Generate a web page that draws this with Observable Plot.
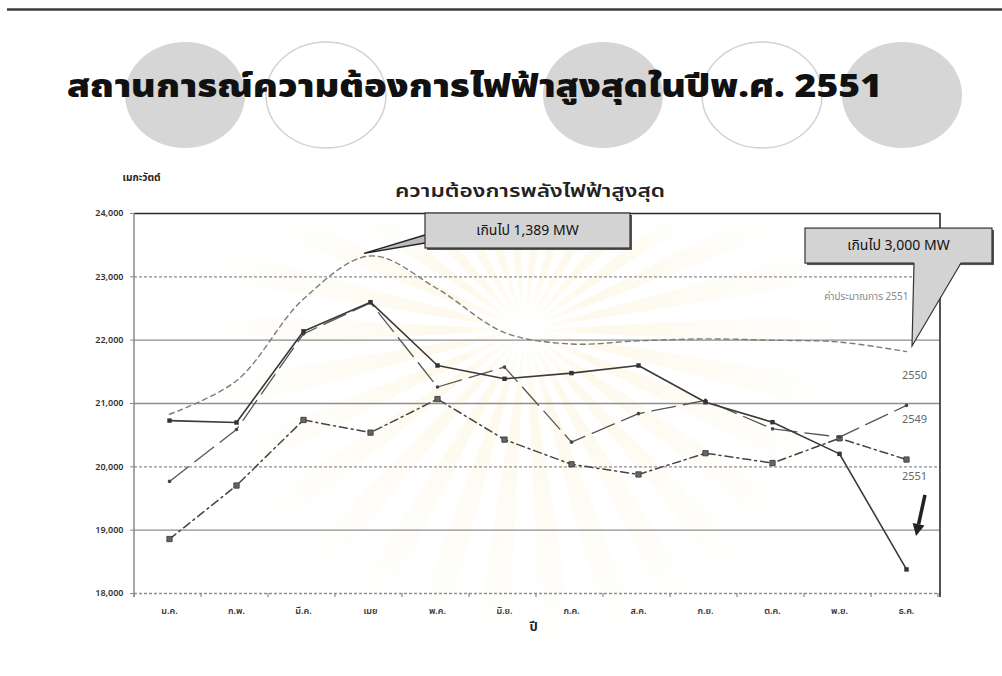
<!DOCTYPE html>
<html>
<head>
<meta charset="utf-8">
<script src="https://cdn.jsdelivr.net/npm/d3@7"></script>
<script src="https://cdn.jsdelivr.net/npm/@observablehq/plot@0.6"></script>
<style>
  body { margin: 0; background: #fff; }
  #slide { position: relative; width: 1002px; height: 676px; overflow: hidden; background: #fff; }
  #glow { position: absolute; left: 0; top: 0; }
  #head { position: absolute; left: 0; top: 0; }
  #chart { position: absolute; left: 0; top: 160px; }
</style>
</head>
<body>
<div id="slide">
  <svg id="glow" width="1002" height="676"></svg>
  <svg id="head" width="1002" height="160"></svg>
  <div id="chart"></div>
</div>
<script>
// Peak electricity demand by month (MW)
const months = ["ม.ค.", "ก.พ.", "มี.ค.", "เมย", "พ.ค.", "มิ.ย.", "ก.ค.", "ส.ค.", "ก.ย.", "ต.ค.", "พ.ย.", "ธ.ค."];
const forecast2551 = [20830, 21360, 22650, 23330, 22810, 22120, 21940, 21990, 22020, 22000, 21970, 21820];
const demand2550 = [19770, 20590, 22100, 22590, 21260, 21575, 20390, 20840, 21050, 20600, 20470, 20970];
const demand2549 = [18860, 19705, 20740, 20540, 21070, 20430, 20040, 19880, 20215, 20060, 20450, 20115];
const demand2551 = [20730, 20700, 22140, 22600, 21600, 21390, 21480, 21600, 21020, 20705, 20205, 18380];
const yTicks = [18000, 19000, 20000, 21000, 22000, 23000, 24000];
const solidGrid = [19000, 21000, 22000];
const dashedGrid = [18000, 20000, 23000];

const slideTitle = "สถานการณ์ความต้องการไฟฟ้าสูงสุดในปีพ.ศ. 2551";
const chartTitle = "ความต้องการพลังไฟฟ้าสูงสุด";
const unitLabel = "เมกะวัตต์";
const axisLabel = "ปี";
const callout1 = "เกินไป 1,389 MW";
const callout2 = "เกินไป 3,000 MW";

const FONT = '"Noto Sans Thai", "Noto Sans", "DejaVu Sans", sans-serif';
const rows = vals => months.map((m, i) => ({month: m, value: vals[i]}));

// ---- faint sunburst watermark behind the chart ----
const glow = d3.select("#glow");
const defs = glow.append("defs");
const rg = defs.append("radialGradient").attr("id", "fade").attr("gradientUnits", "userSpaceOnUse")
  .attr("cx", 525).attr("cy", 330).attr("r", 320);
rg.append("stop").attr("offset", "0").attr("stop-color", "#f6e3a6").attr("stop-opacity", 0);
rg.append("stop").attr("offset", "0.22").attr("stop-color", "#f6e3a6").attr("stop-opacity", 0.22);
rg.append("stop").attr("offset", "1").attr("stop-color", "#f6e3a6").attr("stop-opacity", 0);
const lg = defs.append("linearGradient").attr("id", "vfade").attr("gradientUnits", "userSpaceOnUse")
  .attr("x1", 0).attr("y1", 215).attr("x2", 0).attr("y2", 255);
lg.append("stop").attr("offset", "0").attr("stop-color", "#fff").attr("stop-opacity", 0);
lg.append("stop").attr("offset", "1").attr("stop-color", "#fff").attr("stop-opacity", 1);
defs.append("mask").attr("id", "wm").attr("maskUnits", "userSpaceOnUse")
  .attr("x", 0).attr("y", 0).attr("width", 1002).attr("height", 676)
  .append("rect").attr("x", 0).attr("y", 0).attr("width", 1002).attr("height", 676).attr("fill", "url(#vfade)");
const rays = d3.range(30);
glow.append("g").attr("mask", "url(#wm)").selectAll("path").data(rays).join("path")
  .attr("d", i => {
    const c = i * 12, a0 = (c - 3) * Math.PI / 180, a1 = (c + 3) * Math.PI / 180, R = 330;
    return `M525,330L${525 + R * Math.cos(a0)},${330 + R * Math.sin(a0)}L${525 + R * Math.cos(a1)},${330 + R * Math.sin(a1)}Z`;
  })
  .attr("fill", "url(#fade)");

// ---- slide header: rule, decorative ovals, heading ----
const head = d3.select("#head");
head.append("line").attr("x1", 7).attr("x2", 1002).attr("y1", 9.5).attr("y2", 9.5)
  .attr("stroke", "#3c3c3c").attr("stroke-width", 2.5);
const ovals = [
  {cx: 185, filled: true}, {cx: 326, filled: false}, {cx: 603, filled: true},
  {cx: 762, filled: false}, {cx: 902, filled: true}
];
head.selectAll("ellipse").data(ovals).join("ellipse")
  .attr("cx", d => d.cx).attr("cy", 95).attr("rx", 60).attr("ry", 53)
  .attr("fill", d => d.filled ? "#d6d6d6" : "none")
  .attr("stroke", d => d.filled ? "none" : "#d2d2d2").attr("stroke-width", 1.5);
head.append("text").attr("x", 67).attr("y", 97)
  .attr("font-family", FONT).attr("font-size", 31).attr("font-weight", 900)
  .attr("fill", "#111").attr("textLength", 815).attr("lengthAdjust", "spacingAndGlyphs")
  .text(slideTitle);

// ---- chart ----
const chart = Plot.plot({
  width: 1002,
  height: 500,
  marginTop: 53,
  marginBottom: 67,
  marginLeft: 134,
  marginRight: 62,
  style: {background: "transparent", fontFamily: FONT, color: "#333", overflow: "visible"},
  x: {type: "point", domain: months, padding: 0.5},
  y: {domain: [18000, 24000]},
  marks: [
    Plot.ruleY(solidGrid, {stroke: "#8e8e8e", strokeWidth: 1.4}),
    Plot.ruleY(dashedGrid, {stroke: "#8e8e8e", strokeWidth: 1.4, strokeDasharray: "3,2"}),
    Plot.ruleY([24000], {stroke: "#2a2a2a", strokeWidth: 1.6}),
    Plot.axisY({ticks: yTicks, tickSize: 4, tickPadding: 7, fontSize: 9, fontWeight: 600, stroke: "#888", tickFormat: d3.format(",")}),
    Plot.axisX({tickSize: 0, tickPadding: 14, fontSize: 9, fontWeight: 600, label: null}),
    // forecast
    Plot.line(rows(forecast2551), {x: "month", y: "value", stroke: "#7c7c7c", strokeWidth: 1.4, strokeDasharray: "5,4", curve: "catmull-rom"}),
    // 2549
    Plot.line(rows(demand2549), {x: "month", y: "value", stroke: "#444", strokeWidth: 1.5, strokeDasharray: "8,4,2,4"}),
    Plot.dot(rows(demand2549), {x: "month", y: "value", symbol: "square", r: 3, fill: "#666", stroke: "#333", strokeWidth: 0.8}),
    // 2550
    Plot.line(rows(demand2550), {x: "month", y: "value", stroke: "#555", strokeWidth: 1.3, strokeDasharray: "24,8"}),
    Plot.dot(rows(demand2550), {x: "month", y: "value", r: 1.8, fill: "#444"}),
    // 2551 actual
    Plot.line(rows(demand2551), {x: "month", y: "value", stroke: "#3a3a3a", strokeWidth: 1.6}),
    Plot.dot(rows(demand2551), {x: "month", y: "value", symbol: "square", r: 2.5, fill: "#333"}),
    // labels around the frame
    Plot.text([unitLabel], {frameAnchor: "top-left", textAnchor: "middle", dx: 7, dy: -40, fontSize: 10, fontWeight: 700, fill: "#222"}),
    Plot.text([axisLabel], {frameAnchor: "bottom", dx: -4, dy: 37, fontSize: 13, fontWeight: 700, fill: "#222"}),
    // series labels at the right end
    Plot.text([{t: "ค่าประมาณการ 2551", v: 22680}], {x: () => "ธ.ค.", y: "v", text: "t", textAnchor: "end", dx: 2, fontSize: 10, fill: "#888"}),
    Plot.text([{t: "2550", v: 21440}, {t: "2549", v: 20750}, {t: "2551", v: 19850}], {x: () => "ธ.ค.", y: "v", text: "t", dx: 8, fontSize: 11, fill: "#666"})
  ]
});
document.getElementById("chart").append(chart);

// ---- frame pieces, band ticks, title and callouts, placed with the chart's scales ----
const sx = chart.scale("x"), sy = chart.scale("y");
const svg = d3.select(chart);
const [x0, x1] = sx.range;
const yTop = sy.apply(24000), yBot = sy.apply(18000);
const step = sx.apply(months[1]) - sx.apply(months[0]);
const g = svg.append("g");

g.append("text").attr("x", (x0 + x1) / 2 - 7).attr("y", yTop - 22).attr("dy", "0.35em")
  .attr("text-anchor", "middle").attr("font-family", FONT).attr("font-size", 18).attr("font-weight", 600)
  .attr("fill", "#222").attr("textLength", 270).attr("lengthAdjust", "spacingAndGlyphs")
  .text(chartTitle);

g.append("line").attr("x1", x0).attr("x2", x0).attr("y1", yTop).attr("y2", yBot + 4)
  .attr("stroke", "#8a8a8a").attr("stroke-width", 1.5);
g.append("line").attr("x1", x1).attr("x2", x1).attr("y1", yTop).attr("y2", yBot + 4)
  .attr("stroke", "#2a2a2a").attr("stroke-width", 1.6);
g.selectAll(".bt").data(d3.range(months.length + 1)).join("line")
  .attr("x1", i => x0 + i * step).attr("x2", i => x0 + i * step)
  .attr("y1", yBot).attr("y2", yBot + 4).attr("stroke", "#8a8a8a").attr("stroke-width", 1.2);

function box(x, y, w, h, label) {
  g.append("rect").attr("x", x + 2).attr("y", y + 2).attr("width", w).attr("height", h).attr("fill", "#555");
  g.append("rect").attr("x", x).attr("y", y).attr("width", w).attr("height", h)
    .attr("fill", "#d3d3d3").attr("stroke", "#333").attr("stroke-width", 1.2);
  g.append("text").attr("x", x + w / 2).attr("y", y + h / 2).attr("dy", "0.35em")
    .attr("text-anchor", "middle").attr("font-family", FONT).attr("font-size", 14).attr("fill", "#111")
    .text(label);
}

// callout at the forecast peak
const tip1 = [sx.apply("เมย") - 6, sy.apply(forecast2551[3]) - 2];
const b1 = {x: tip1[0] + 61, y: yTop, w: 205, h: 35};
g.append("path").attr("d", `M${b1.x},${b1.y + 22}L${tip1[0]},${tip1[1]}L${b1.x},${b1.y + 30}`)
  .attr("fill", "#bbb").attr("stroke", "#222").attr("stroke-width", 1.4);
box(b1.x, b1.y, b1.w, b1.h, callout1);

// callout at the December forecast
const tip2 = [sx.apply("ธ.ค.") + 6, sy.apply(forecast2551[11]) - 5];
const b2 = {x: tip2[0] - 107, y: tip2[1] - 118, w: 187, h: 35};
box(b2.x, b2.y, b2.w, b2.h, callout2);
const wl = tip2[0] + 2, wr = tip2[0] + 49, wy = b2.y + b2.h;
g.append("path").attr("d", `M${wl},${wy - 1}L${tip2[0]},${tip2[1]}L${wr},${wy - 1}Z`).attr("fill", "#d3d3d3");
g.append("path").attr("d", `M${wl},${wy}L${tip2[0]},${tip2[1]}L${wr},${wy}`)
  .attr("fill", "none").attr("stroke", "#333").attr("stroke-width", 1.2);

// arrow pointing at the December drop
const ax = sx.apply("ธ.ค."), a1 = [ax + 19, sy.apply(19550)], a2 = [ax + 10, sy.apply(18900)];
const ang = Math.atan2(a2[1] - a1[1], a2[0] - a1[0]);
const hx = a2[0], hy = a2[1], hl = 12, hw = 6;
const bx = hx - hl * Math.cos(ang), by = hy - hl * Math.sin(ang);
g.append("line").attr("x1", a1[0]).attr("y1", a1[1]).attr("x2", bx).attr("y2", by)
  .attr("stroke", "#222").attr("stroke-width", 3.5);
g.append("path").attr("d",
  `M${hx},${hy}L${bx + hw * Math.sin(ang)},${by - hw * Math.cos(ang)}L${bx - hw * Math.sin(ang)},${by + hw * Math.cos(ang)}Z`)
  .attr("fill", "#222");
</script>
</body>
</html>
